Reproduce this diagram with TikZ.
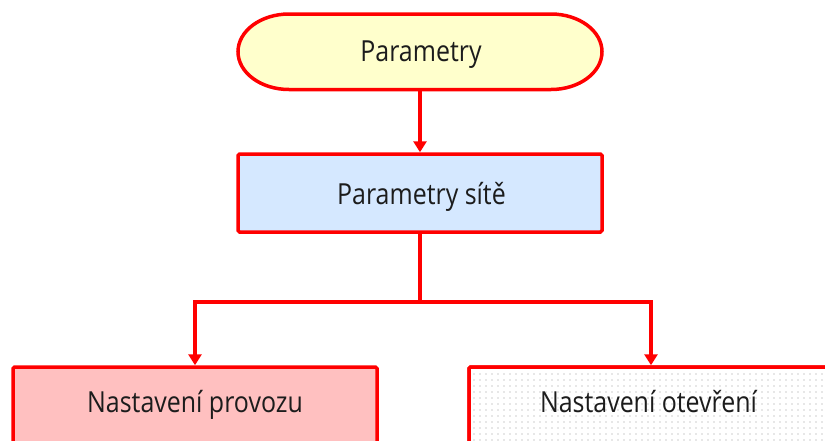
\documentclass[tikz,border=0pt]{standalone}
\usepackage{fontspec}
\setmainfont[FakeStretch=0.86]{Open Sans}
\usetikzlibrary{arrows.meta,patterns.meta}
\definecolor{lineRed}{RGB}{255,0,0}
\definecolor{topFill}{RGB}{255,255,204}
\definecolor{midFill}{RGB}{213,232,255}
\definecolor{leftFill}{RGB}{255,192,192}
\definecolor{txt}{RGB}{28,28,28}
\tikzset{
  label text/.style={text=txt, font=\fontsize{29}{34}\selectfont, inner sep=0pt, anchor=base},
  framed/.style={draw=lineRed, line width=3.5pt},
  boxnode/.style={framed, rectangle, rounded corners=1.5pt, minimum width=364pt, minimum height=78pt, inner sep=0pt},
  arr/.style={framed, -{Triangle[width=13pt,length=11pt]}},
  plain/.style={framed}
}
\begin{document}
\begin{tikzpicture}[x=1pt,y=-1pt]
\useasboundingbox (0,0) rectangle (825,440);
\clip (0,0) rectangle (825,440);
% stadium with elliptical ends
\draw[framed, fill=topFill] (289,14) -- (551,14)
  arc[start angle=-90, end angle=90, x radius=51, y radius=37.75]
  -- (289,89.5)
  arc[start angle=90, end angle=270, x radius=51, y radius=37.75] -- cycle;
\node[minimum width=364pt, minimum height=75.5pt, inner sep=0pt] (top) at (420,51.75) {};
\node[boxnode, fill=midFill] (mid) at (420,193) {};
\node[boxnode, fill=leftFill] (left) at (195,406) {};
\node[boxnode, fill=white] (right) at (651,406) {};
\fill[pattern={Dots[distance=6pt, radius=0.6pt]}, pattern color=black!40] (right.south west) rectangle (right.north east);
\node[boxnode] (rightframe) at (651,406) {};
\node[label text] (toptext) at (421,61.7) {Parametry};
\node[label text] (midtext) at (421.5,204) {Parametry sítě};
\node[label text] (lefttext) at (195,412.7) {Nastavení provozu};
\node[label text] (righttext) at (648.5,412.5) {Nastavení otevření};
\coordinate (bus) at (mid.south |- 0,302);
\draw[arr] (top.south) -- (mid.north);
\draw[plain] (mid.south) -- (bus);
\draw[arr] (bus) -| (left.north);
\draw[arr] (bus) -| (right.north);
\end{tikzpicture}
\end{document}
